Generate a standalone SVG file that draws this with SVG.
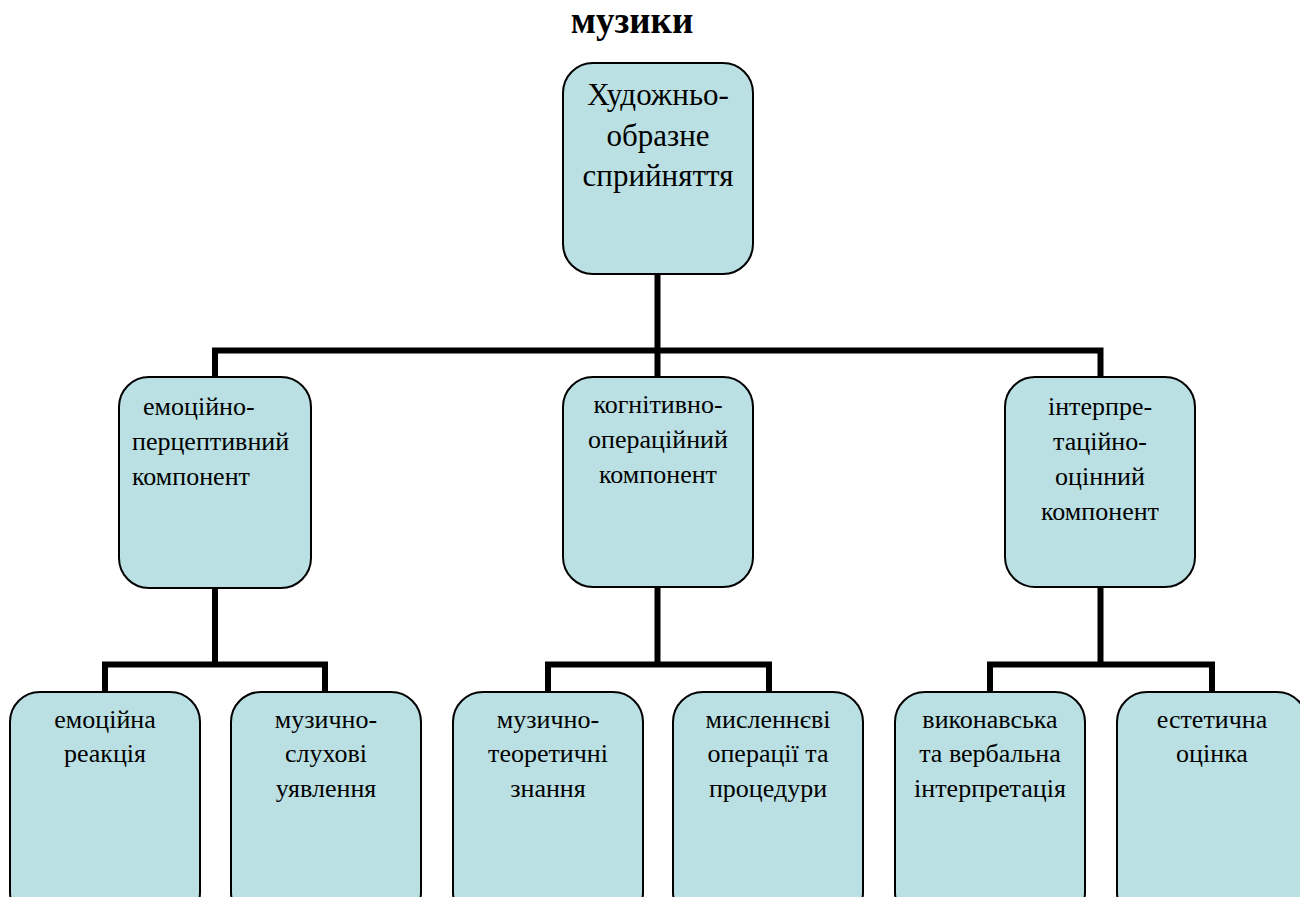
<svg xmlns="http://www.w3.org/2000/svg" width="1300" height="897" viewBox="0 0 1300 897" font-family="Liberation Serif, Times New Roman, DejaVu Serif, serif">
<style>
.box{fill:#bae0e3;stroke:#000;stroke-width:2}
.t{font-size:26px;fill:#000;text-anchor:middle}
.l{text-anchor:start}
.big{font-size:31px}
.title{font-size:37px;font-weight:bold;text-anchor:middle}
.c{fill:none;stroke:#000;stroke-width:6;stroke-linejoin:miter;stroke-linecap:butt}
</style>
<rect width="1300" height="897" fill="#fff"/>
<text class="title" x="632" y="33">музики</text>
<g id="connectors">
<path class="c" d="M657.5 274 V350.5 M215 377 V350.5 H1100.5 V377 M657.5 350.5 V377"/>
<path class="c" d="M215 588 V664.5 M105 692 V664.5 H325 V692"/>
<path class="c" d="M657.5 588 V664.5 M548 692 V664.5 H769 V692"/>
<path class="c" d="M1100.5 588 V664.5 M990 692 V664.5 H1212 V692"/>
</g>
<g id="n-root">
<rect class="box" x="563" y="63" width="190" height="211" rx="30"/>
<text class="t big" x="658" y="105">Художньо-</text>
<text class="t big" x="658" y="146">образне</text>
<text class="t big" x="658" y="186">сприйняття</text>
</g>
<g id="n-emo">
<rect class="box" x="119" y="377" width="192" height="211" rx="30"/>
<text class="t l" x="143" y="415">емоційно-</text>
<text class="t l" x="132" y="450">перцептивний</text>
<text class="t l" x="132" y="485">компонент</text>
</g>
<g id="n-cog">
<rect class="box" x="563" y="377" width="190" height="210" rx="30"/>
<text class="t" x="658" y="413">когнітивно-</text>
<text class="t" x="658" y="448">операційний</text>
<text class="t" x="658" y="483">компонент</text>
</g>
<g id="n-int">
<rect class="box" x="1005" y="377" width="190" height="210" rx="30"/>
<text class="t" x="1100" y="415">інтерпре-</text>
<text class="t" x="1100" y="450">таційно-</text>
<text class="t" x="1100" y="485">оцінний</text>
<text class="t" x="1100" y="520">компонент</text>
</g>
<g id="n-b1">
<rect class="box" x="10" y="692" width="190" height="230" rx="30"/>
<text class="t" x="105" y="728">емоційна</text>
<text class="t" x="105" y="762">реакція</text>
</g>
<g id="n-b2">
<rect class="box" x="231" y="692" width="190" height="230" rx="30"/>
<text class="t" x="326" y="728">музично-</text>
<text class="t" x="326" y="762">слухові</text>
<text class="t" x="326" y="797">уявлення</text>
</g>
<g id="n-b3">
<rect class="box" x="453" y="692" width="190" height="230" rx="30"/>
<text class="t" x="548" y="728">музично-</text>
<text class="t" x="548" y="762">теоретичні</text>
<text class="t" x="548" y="797">знання</text>
</g>
<g id="n-b4">
<rect class="box" x="673" y="692" width="190" height="230" rx="30"/>
<text class="t" x="768" y="728">мисленнєві</text>
<text class="t" x="768" y="762">операції та</text>
<text class="t" x="768" y="797">процедури</text>
</g>
<g id="n-b5">
<rect class="box" x="895" y="692" width="190" height="230" rx="30"/>
<text class="t" x="990" y="728">виконавська</text>
<text class="t" x="990" y="762">та вербальна</text>
<text class="t" x="990" y="797">інтерпретація</text>
</g>
<g id="n-b6">
<rect class="box" x="1117" y="692" width="190" height="230" rx="30"/>
<text class="t" x="1212" y="728">естетична</text>
<text class="t" x="1212" y="762">оцінка</text>
</g>
</svg>
